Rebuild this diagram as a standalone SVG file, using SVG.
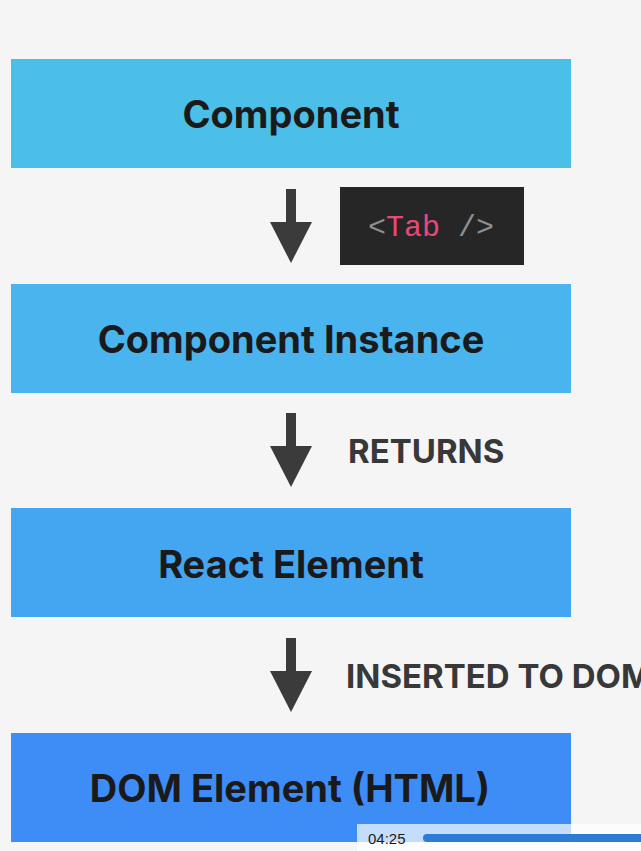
<svg xmlns="http://www.w3.org/2000/svg" width="641" height="851" viewBox="0 0 641 851">
  <defs>
    <style>
      .box-text { font-family: Inter, "Liberation Sans", Arial, sans-serif; font-weight: 700; font-size: 38px; fill: #1a1a1a; text-anchor: middle; }
      .label { font-family: Inter, "Liberation Sans", Arial, sans-serif; font-weight: 700; font-size: 33px; fill: #383838; }
      .conn { stroke: #3b3b3b; stroke-width: 10; fill: none; }
      .code { font-family: "Liberation Mono", "DejaVu Sans Mono", monospace; font-size: 30px; }
    </style>
    <marker id="head" markerUnits="userSpaceOnUse" markerWidth="42" markerHeight="44" refX="1" refY="0" orient="auto" overflow="visible">
      <path d="M0,-21 L41,0 L0,21 Z" fill="#3b3b3b"/>
    </marker>
  </defs>
  <rect x="0" y="0" width="641" height="851" fill="#f5f5f5"/>

  <g id="node-component">
    <rect x="11" y="59" width="560" height="109" fill="#4bbfe7"/>
    <text class="box-text" x="291" y="128">Component</text>
  </g>
  <g id="node-instance">
    <rect x="11" y="284" width="560" height="109" fill="#4ab4ee"/>
    <text class="box-text" x="291" y="353">Component Instance</text>
  </g>
  <g id="node-react-element">
    <rect x="11" y="508" width="560" height="109" fill="#44a5f1"/>
    <text class="box-text" x="291" y="578">React Element</text>
  </g>
  <g id="node-dom-element">
    <rect x="11" y="733" width="560" height="109" fill="#3e8cf6"/>
    <text class="box-text" x="290" y="802">DOM Element (HTML)</text>
  </g>

  <g id="connectors">
    <line class="conn" x1="291" y1="189" x2="291" y2="223" marker-end="url(#head)"/>
    <line class="conn" x1="291" y1="413" x2="291" y2="447" marker-end="url(#head)"/>
    <line class="conn" x1="291" y1="638" x2="291" y2="672" marker-end="url(#head)"/>
  </g>

  <g id="label-tab">
    <rect x="340" y="187" width="184" height="78" fill="#262627"/>
    <text class="code" x="368" y="236"><tspan fill="#8f8f8f">&lt;</tspan><tspan fill="#e8497b">Tab</tspan><tspan fill="#8f8f8f"> /&gt;</tspan></text>
  </g>
  <g id="label-returns">
    <text class="label" x="348" y="463">RETURNS</text>
  </g>
  <g id="label-inserted">
    <text class="label" x="346" y="688">INSERTED TO DOM</text>
  </g>

  <g id="player-overlay">
    <rect x="357" y="824" width="284" height="27" fill="#ffffff" fill-opacity="0.7"/>
    <text x="368" y="844" font-family="'Liberation Sans', Arial, sans-serif" font-size="15" fill="#1a1a1a">04:25</text>
    <rect x="423" y="834" width="230" height="8" rx="4" fill="#2c7cd5"/>
  </g>
</svg>
